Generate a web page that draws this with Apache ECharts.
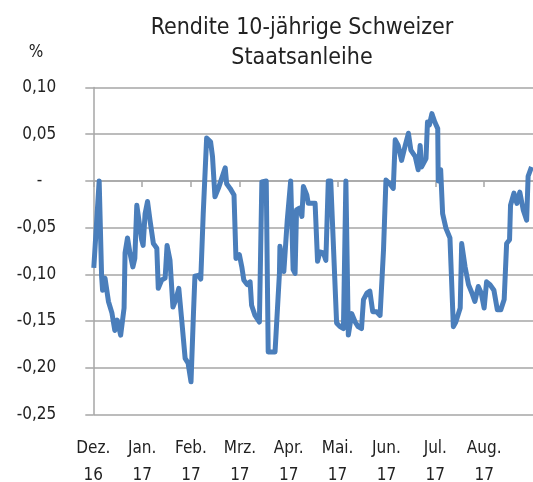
<!DOCTYPE html>
<html>
<head>
	<meta charset="UTF-8">
	<title></title>
	<script type="text/javascript" src="https://cdn.jsdelivr.net/npm/echarts@6/dist/echarts.min.js"></script>
	<style type="text/css">
		html,body{margin:0; padding:0; background:#fff;}
		#chart1{width:533px; height:482px;}
	</style>
</head>
<body>
	<div id="chart1"></div>
	<script type="text/javascript">
		// Monatsbeschriftung der x-Achse
		var monate = ['Dez.\n16','Jan.\n17','Feb.\n17','Mrz.\n17','Apr.\n17','Mai.\n17','Jun.\n17','Jul.\n17','Aug.\n17'];
		// Zeitpunkt in Monaten ab Anfang Dezember 2016
		var zeit = [0.01,0.12,0.17,0.19,0.24,0.31,0.38,0.44,0.49,0.56,0.63,0.65,0.70,0.75,0.81,0.85,0.89,0.92,0.99,
			1.02,1.06,1.11,1.16,1.23,1.30,1.33,1.40,1.47,1.51,1.57,1.63,1.69,1.75,1.81,1.88,1.94,
			2.00,2.05,2.08,2.15,2.20,2.25,2.32,2.40,2.44,2.49,2.56,2.63,2.70,2.73,2.80,2.88,2.92,2.99,
			3.04,3.08,3.15,3.21,3.24,3.31,3.40,3.45,3.54,3.58,3.72,3.81,3.82,3.86,3.90,3.97,
			4.04,4.09,4.13,4.16,4.22,4.27,4.30,4.37,4.40,4.54,4.59,4.64,4.71,4.76,4.81,4.86,4.98,
			5.05,5.12,5.17,5.22,5.29,5.36,5.42,5.49,5.53,5.60,5.66,5.72,5.80,5.87,5.94,5.99,
			6.07,6.14,6.18,6.24,6.31,6.38,6.45,6.50,6.59,6.65,6.69,6.72,6.81,6.84,6.88,6.93,6.99,
			7.05,7.06,7.11,7.15,7.22,7.30,7.37,7.42,7.51,7.54,7.61,7.68,7.75,7.81,7.88,7.94,
			8.00,8.05,8.12,8.20,8.27,8.34,8.41,8.46,8.52,8.54,8.61,8.67,8.73,8.80,8.87,8.90,8.97];
		// Rendite in %
		var rendite = [-0.093,0.000,-0.102,-0.117,-0.104,-0.129,-0.141,-0.160,-0.149,-0.165,-0.136,-0.077,-0.061,-0.077,-0.092,-0.083,-0.026,-0.024,-0.063,
			-0.069,-0.035,-0.022,-0.042,-0.067,-0.072,-0.115,-0.106,-0.104,-0.069,-0.085,-0.135,-0.127,-0.115,-0.149,-0.190,-0.195,
			-0.215,-0.142,-0.102,-0.101,-0.105,-0.035,0.046,0.042,0.026,-0.017,-0.008,0.003,0.014,-0.003,-0.008,-0.015,-0.083,-0.079,
			-0.092,-0.106,-0.111,-0.108,-0.133,-0.144,-0.151,-0.001,0.000,-0.183,-0.183,-0.099,-0.070,-0.070,-0.097,-0.042,
			0.000,-0.095,-0.099,-0.031,-0.029,-0.038,-0.006,-0.015,-0.024,-0.024,-0.086,-0.076,-0.077,-0.085,0.000,0.000,-0.152,
			-0.156,-0.158,0.000,-0.165,-0.142,-0.151,-0.156,-0.158,-0.127,-0.120,-0.118,-0.140,-0.140,-0.144,-0.074,0.001,
			-0.003,-0.008,0.044,0.038,0.022,0.037,0.051,0.033,0.026,0.012,0.038,0.015,0.024,0.063,0.060,0.072,0.063,
			0.056,0.000,0.012,-0.035,-0.051,-0.061,-0.156,-0.151,-0.136,-0.067,-0.092,-0.111,-0.120,-0.129,-0.113,-0.120,
			-0.136,-0.108,-0.111,-0.117,-0.138,-0.138,-0.127,-0.067,-0.063,-0.026,-0.013,-0.024,-0.012,-0.031,-0.042,0.005,0.015];

		var schrift = "'Liberation Sans Narrow','DejaVu Sans Condensed',sans-serif";
		var punkte = zeit.map(function(t, i){ return [t, rendite[i]]; });

		var myChart = echarts.init(document.getElementById('chart1'));
		var option = {
			animation: false,
			title: {
				text: 'Rendite 10-jährige Schweizer\nStaatsanleihe',
				left: 297,
				textAlign: 'center',
				top: 8,
				textStyle: {fontFamily: schrift, fontSize: 23, fontWeight: 'normal', color: '#222', lineHeight: 30}
			},
			grid: {left: 93.3, right: 0, top: 87.5, bottom: 67.5, outerBoundsMode: 'none'},
			xAxis: {
				type: 'value',
				min: 0,
				max: 9,
				interval: 1,
				splitLine: {show: false},
				axisLine: {show: true, lineStyle: {color: '#a6a6a6', width: 1.5}},
				axisTick: {show: true, length: 6, lineStyle: {color: '#a6a6a6', width: 1.5}},
				axisLabel: {
					margin: 21,
					fontFamily: schrift,
					fontSize: 17,
					lineHeight: 27,
					color: '#222',
					showMaxLabel: false,
					formatter: function(v){ return monate[v] || ''; }
				}
			},
			yAxis: {
				type: 'value',
				min: -0.25,
				max: 0.10,
				interval: 0.05,
				name: '%',
				nameLocation: 'end',
				nameGap: 26,
				nameTextStyle: {fontFamily: schrift, fontSize: 17, color: '#222', align: 'right', padding: [0, 50, 0, 0]},
				axisLine: {show: true, lineStyle: {color: '#a6a6a6', width: 1.5}},
				axisTick: {show: true, length: 8, lineStyle: {color: '#a6a6a6', width: 1.5}},
				splitLine: {show: true, lineStyle: {color: '#a6a6a6', width: 1.5}},
				axisLabel: {
					margin: 37,
					fontFamily: schrift,
					fontSize: 17,
					color: '#222',
					formatter: function(v){
						if (Math.abs(v) < 1e-9) return '{z|-}';
						return v.toFixed(2).replace('.', ',');
					},
					rich: {z: {fontFamily: schrift, fontSize: 17, color: '#222', padding: [0, 14, 0, 0]}}
				}
			},
			series: [{
				type: 'line',
				data: punkte,
				symbol: 'none',
				lineStyle: {color: '#4a7ebb', width: 5, join: 'round'},
				z: 3
			}]
		};
		myChart.setOption(option);
	</script>
</body>
</html>
